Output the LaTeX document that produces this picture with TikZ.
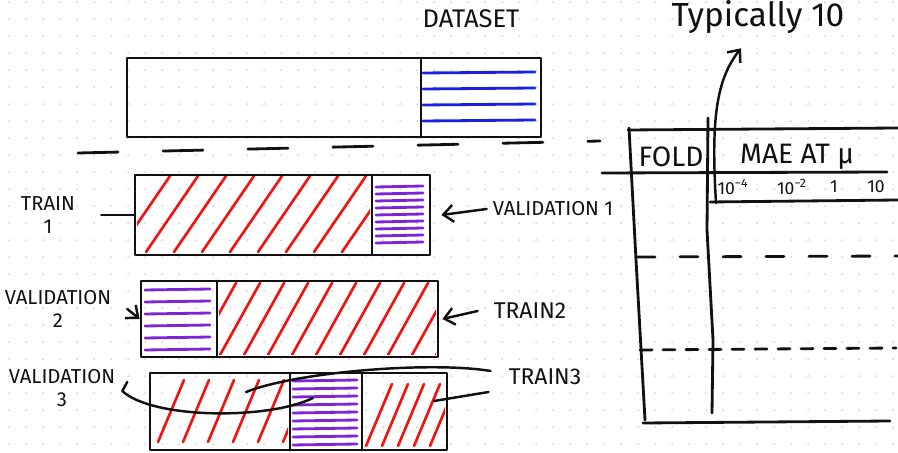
\documentclass[tikz,border=0pt]{standalone}
\usepackage{fontspec}
\setmainfont{Fira Sans}
\usetikzlibrary{arrows.meta,calc,fit,positioning}
\definecolor{cvInk}{HTML}{111111}
\definecolor{cvTrain}{HTML}{F21212}
\definecolor{cvValid}{HTML}{7E24D8}
\definecolor{cvHold}{HTML}{1A1FE8}
\definecolor{cvDot}{HTML}{DCDCE0}
\tikzset{
  cv stroke/.style={draw=cvInk, line width=1.6pt, line cap=round, line join=round},
  cv block/.style={cv stroke, inner sep=0pt},
  cv hatch/.style={draw=cvTrain, line width=1.5pt, line cap=round},
  cv valid/.style={draw=cvValid, line width=1.6pt, line cap=round},
  cv hold/.style={draw=cvHold, line width=1.6pt, line cap=round},
  cv pointer/.style={cv stroke, line width=1.4pt, -{Straight Barb[length=2mm,width=3.4mm]}},
  cv lead/.style={cv stroke, line width=1.4pt},
  cv rule/.style={cv stroke, dash pattern=on 8mm off 9mm},
  cv dot/.style={draw=cvDot, line width=.4pt},
  cv label/.style={font=\fontsize{11.5}{13}\selectfont, text=cvInk, align=center},
  cv head/.style={font=\fontsize{16}{18}\selectfont, text=cvInk},
  cv tick/.style={font=\fontsize{10}{12}\selectfont, text=cvInk},
  cv note/.style={font=\fontsize{19}{21}\selectfont, text=cvInk}
}

\begin{document}
\begin{tikzpicture}[x=.2mm,y=-.2mm]
  \clip (0,0) rectangle (898,453);
  \fill[white] (0,0) rectangle (898,453);

  % dotted paper
  \foreach \gx in {9,26,...,898}
    \foreach \gy in {2,19,...,453}
      \draw[cv dot] (\gx-1.4,\gy) -- (\gx+1.4,\gy) (\gx,\gy-1.4) -- (\gx,\gy+1.4);

  % whole dataset, hold-out part on the right
  \node[cv head, font=\fontsize{14.5}{16}\selectfont] (dataset) at (471,19) {DATASET};
  \node[cv block, fit={(127,58) (541,137)}] (data) {};
  \draw[cv stroke] (421,58) -- (421,137);
  \foreach \by in {73,89,105,121}
    \draw[cv hold] (423,\by) -- (535,\by-1);

  \draw[cv rule] (78,153) -- (600,141);

  % fold 1
  \node[cv block, fit={(135,175) (430,255)}] (fold1) {};
  \draw[cv stroke] (372,175) -- (372,255);
  \begin{scope}
    \clip (137,177) rectangle (370,253);
    \foreach \hx in {118,146,...,346}
      \draw[cv hatch] (\hx,252) -- ++(52,-76);
  \end{scope}
  \foreach \vy in {187,194,...,244}
    \draw[cv valid] (376,\vy) -- (423,\vy-1);

  % fold 2
  \node[cv block, fit={(141,281) (438,357)}] (fold2) {};
  \draw[cv stroke] (217,281) -- (217,357);
  \foreach \vy in {290,302,...,350}
    \draw[cv valid] (145,\vy) -- (210,\vy-1);
  \begin{scope}
    \clip (219,283) rectangle (436,355);
    \foreach \hx in {196,220,...,436}
      \draw[cv hatch] (\hx,355) -- ++(40,-72);
  \end{scope}

  % fold 3
  \node[cv block, fit={(150,373) (447,450)}] (fold3) {};
  \draw[cv stroke] (290,373) -- (290,450);
  \draw[cv stroke] (362,373) -- (362,450);
  \begin{scope}
    \clip (152,375) rectangle (288,448);
    \foreach \hx in {158,183,...,283}
      \draw[cv hatch] (\hx,442) -- ++(26,-62);
  \end{scope}
  \foreach \vy in {381,389,...,445}
    \draw[cv valid] (293,\vy) -- (357,\vy-1);
  \begin{scope}
    \clip (364,375) rectangle (445,448);
    \foreach \hx in {366,382,...,446}
      \draw[cv hatch] (\hx,446) -- ++(26,-62);
  \end{scope}

  % labels round the folds
  \node[cv label] (train1) at (48,215) {TRAIN\\1};
  \draw[cv lead] ([xshift=4mm]train1.east) -- (fold1.west);
  \node[cv label] (valid1) at (553,209) {VALIDATION 1};
  \draw[cv pointer] (valid1.west) -- ([xshift=2mm]fold1.east);

  \node[cv label] (valid2) at (58,309) {VALIDATION\\2};
  \draw[cv pointer] ([xshift=2mm]valid2.east) -- (fold2.west);
  \node[cv label, font=\fontsize{13}{15}\selectfont] (train2) at (530,311) {TRAIN2};
  \draw[cv pointer] ([xshift=-2mm]train2.west) -- ([xshift=.6mm]fold2.east);

  \node[cv label] (valid3) at (62,388) {VALIDATION\\3};
  \coordinate (valid3part) at (313,398);
  \draw[cv lead] ($(valid3.east)+(6,-6)$) -- ++(-5,9)
    .. controls +(30,28) and +(-45,22) .. (valid3part);
  \node[cv label, font=\fontsize{13}{15}\selectfont] (train3) at (545,377) {TRAIN3};
  \coordinate (train3left) at (246,392);
  \coordinate (train3right) at (434,401);
  \draw[cv lead] ($(train3.west)+(-12,-6)$)
    .. controls +(-60,-10) and +(50,-20) .. (train3left);
  \draw[cv lead] ($(train3.west)+(-14,15)$) -- (train3right);

  % results table
  \draw[cv stroke] (628,130) -- (898,128);
  \draw[cv stroke] (602,173) -- (887,172);
  \draw[cv stroke] (710,202) -- (898,200);
  \draw[cv stroke] (629,128) -- (636,260) -- (645,420);
  \draw[cv stroke] (708,118) -- (707,230) -- (713,340) -- (712,413);
  \draw[cv stroke] (643,423) -- (890,421);
  \draw[cv stroke, dash pattern=on 3.6mm off 5mm] (637,257) -- (898,256);
  \draw[cv stroke, dash pattern=on 2.4mm off 2.2mm] (640,350) -- (896,348);

  \node[cv head] (foldhd) at (671,157) {FOLD};
  \node[cv head] (maehd) at (797,157) {MAE AT μ};
  \node[cv tick] (mu1) at (733,187) {10\textsuperscript{−4}};
  \node[cv tick] (mu2) at (792,187) {10\textsuperscript{−2}};
  \node[cv tick] (mu3) at (834,187) {1};
  \node[cv tick] (mu4) at (876,187) {10};

  \node[cv note, anchor=base] (typically) at (758,27) {Typically 10};
  \coordinate (mucol) at (716,203);
  \draw[cv pointer] (mucol) .. controls (711,120) and (716,80) .. ($(typically.south)+(-17,8)$);
\end{tikzpicture}
\end{document}
